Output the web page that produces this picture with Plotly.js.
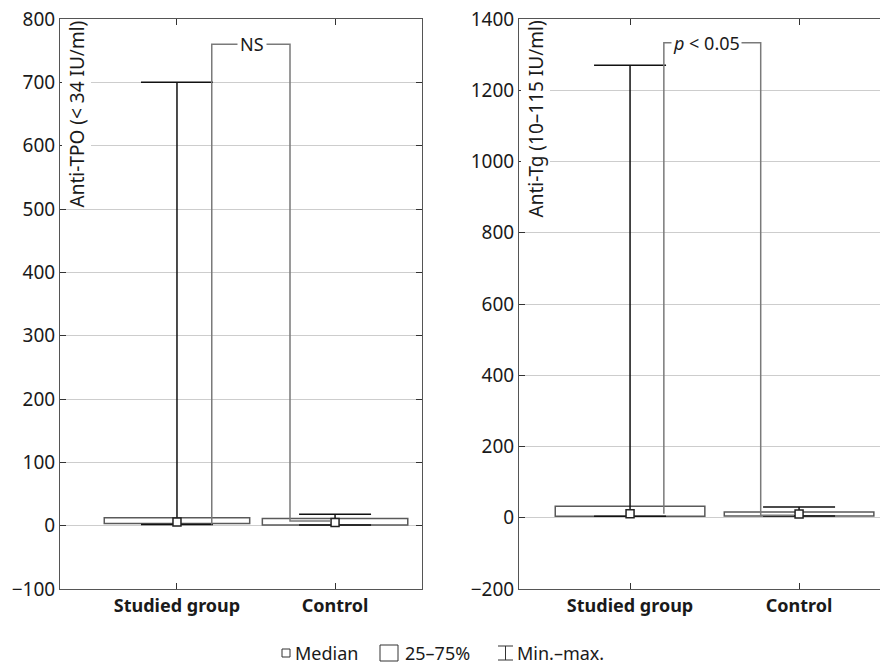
<!DOCTYPE html>
<html>
<head>
<meta charset="utf-8">
<script src="https://cdn.plot.ly/plotly-3.0.1.min.js"></script>
<style>
html,body{margin:0;padding:0;overflow:hidden;background:#fff;}
#chart{width:900px;height:668px;}
</style>
</head>
<body>
<div id="chart"></div>
<script>
// ---- data ----
const categories = ["Studied group", "Control"];
// Anti-TPO (IU/ml)
const tpoMin    = [2, 1];
const tpoQ1     = [3.5, 1];
const tpoMedian = [5.7, 5];
const tpoQ3     = [12.5, 11.5];
const tpoMax    = [700, 18];
// Anti-Tg (IU/ml)
const tgMin    = [4, 5];
const tgQ1     = [4, 5];
const tgMedian = [11, 10.5];
const tgQ3     = [32, 16];
const tgMax    = [1270, 30];

const FONT = "Noto Sans, DejaVu Sans, sans-serif";
const xIdx = categories.map((c, i) => i);
const sub = (a, b) => a.map((v, i) => v - b[i]);

function whiskerTrace(med, mn, mx, xa, ya) {
  return {
    type: "scatter", mode: "markers", x: xIdx, y: med, xaxis: xa, yaxis: ya,
    marker: {size: 1, color: "rgba(0,0,0,0)"},
    error_y: {type: "data", symmetric: false, array: sub(mx, med), arrayminus: sub(med, mn),
              color: "#111", thickness: 1.5, width: 36},
    hoverinfo: "skip"
  };
}
function boxTrace(q1, q3, xa, ya, w) {
  return {
    type: "bar", x: xIdx, base: q1, y: sub(q3, q1), width: w,
    xaxis: xa, yaxis: ya, hoverinfo: "skip",
    marker: {color: "#ffffff", line: {color: "#5a5a5a", width: 1.5}}
  };
}
function medTrace(med, xa, ya) {
  return {
    type: "scatter", mode: "markers", x: xIdx, y: med, xaxis: xa, yaxis: ya,
    marker: {symbol: "square", size: 8, color: "#ffffff", line: {color: "#222", width: 1.5}},
    hoverinfo: "skip"
  };
}

const traces = [
  whiskerTrace(tpoMedian, tpoMin, tpoMax, "x", "y"),
  boxTrace(tpoQ1, tpoQ3, "x", "y", 0.92),
  medTrace(tpoMedian, "x", "y"),
  whiskerTrace(tgMedian, tgMin, tgMax, "x2", "y2"),
  boxTrace(tgQ1, tgQ3, "x2", "y2", 0.885),
  medTrace(tgMedian, "x2", "y2")
];

const W = 900, H = 668;
const yDom = [(H - 589) / H, (H - 19) / H];
const tickText = categories.map(c => "<b>" + c + "</b>");

function xAxis(dom, rng, anchor) {
  return {
    domain: dom, range: rng, anchor: anchor, tickvals: xIdx, ticktext: tickText,
    ticks: "inside", ticklen: 6, tickcolor: "#333", showline: true, linecolor: "#555",
    linewidth: 1, mirror: "ticks", showgrid: false, zeroline: false, fixedrange: true,
    tickfont: {family: FONT, size: 18, color: "#1a1a1a"}
  };
}
function yAxis(rng, dt, anchor) {
  return {
    domain: yDom, range: rng, dtick: dt, tick0: 0, anchor: anchor,
    ticks: "inside", ticklen: 6, tickcolor: "#333", showline: true, linecolor: "#555",
    linewidth: 1, mirror: "ticks", showgrid: true, gridcolor: "#cdcdcd", gridwidth: 1,
    zeroline: false, fixedrange: true,
    tickfont: {family: FONT, size: 19, color: "#1a1a1a"}
  };
}

const px = v => v / W;
const py = v => (H - v) / H;

const LEG = 653; // legend centre line (px from top)
const shapes = [
  {type: "path", xref: "x", yref: "y", path: "M 0.22,2 V 760 H 0.715 V 7.3 H 0.97",
   line: {color: "#7a7a7a", width: 1.5}},
  {type: "path", xref: "x2", yref: "y2", path: "M 0.2,11 V 1333 H 0.773 V 7 H 0.97",
   line: {color: "#7a7a7a", width: 1.5}},
  // legend glyphs
  {type: "rect", xref: "paper", yref: "paper", x0: px(282), x1: px(290), y0: py(LEG + 4), y1: py(LEG - 4),
   line: {color: "#333", width: 1}, fillcolor: "#fff"},
  {type: "rect", xref: "paper", yref: "paper", x0: px(380), x1: px(398), y0: py(LEG + 8), y1: py(LEG - 8),
   line: {color: "#333", width: 1}, fillcolor: "#fff"},
  {type: "line", xref: "paper", yref: "paper", x0: px(505.5), x1: px(505.5), y0: py(LEG + 7), y1: py(LEG - 7),
   line: {color: "#333", width: 1}},
  {type: "line", xref: "paper", yref: "paper", x0: px(498), x1: px(513), y0: py(LEG - 7), y1: py(LEG - 7),
   line: {color: "#333", width: 1}},
  {type: "line", xref: "paper", yref: "paper", x0: px(498), x1: px(513), y0: py(LEG + 7), y1: py(LEG + 7),
   line: {color: "#333", width: 1}}
];

const annFont = {family: FONT, size: 18, color: "#1a1a1a"};
const annotations = [
  {xref: "x", yref: "y", x: 0.475, y: 760, text: "NS", showarrow: false,
   bgcolor: "#fff", borderpad: 2, font: annFont},
  {xref: "x2", yref: "y2", x: 0.45, y: 1333, text: "<i>p</i> &lt; 0.05", showarrow: false,
   bgcolor: "#fff", borderpad: 1, font: annFont},
  {xref: "paper", yref: "paper", x: px(61), y: py(19), xanchor: "left", yanchor: "top",
   text: "Anti-TPO (< 34 IU/ml)", textangle: -90, showarrow: false, bgcolor: "#fff",
   font: {family: FONT, size: 19, color: "#1a1a1a"}},
  {xref: "paper", yref: "paper", x: px(520), y: py(19), xanchor: "left", yanchor: "top",
   text: "Anti-Tg (10–115 IU/ml)", textangle: -90, showarrow: false, bgcolor: "#fff",
   font: {family: FONT, size: 19, color: "#1a1a1a"}},
  // legend labels
  {xref: "paper", yref: "paper", x: px(293), y: py(LEG), xanchor: "left", yanchor: "middle",
   text: "Median", showarrow: false, font: annFont},
  {xref: "paper", yref: "paper", x: px(403), y: py(LEG), xanchor: "left", yanchor: "middle",
   text: "25–75%", showarrow: false, font: annFont},
  {xref: "paper", yref: "paper", x: px(515), y: py(LEG), xanchor: "left", yanchor: "middle",
   text: "Min.–max.", showarrow: false, font: annFont}
];

const layout = {
  width: W, height: H, margin: {l: 0, r: 0, t: 0, b: 0},
  paper_bgcolor: "#fff", plot_bgcolor: "#fff", showlegend: false,
  barmode: "overlay",
  font: {family: FONT, color: "#1a1a1a"},
  xaxis: xAxis([px(60), px(422)], [-0.74, 1.55], "y"),
  yaxis: yAxis([-100, 800], 100, "x"),
  xaxis2: xAxis([px(519), px(890)], [-0.657, 1.538], "y2"),
  yaxis2: yAxis([-200, 1400], 200, "x2"),
  shapes: shapes, annotations: annotations
};

Plotly.newPlot("chart", traces, layout, {staticPlot: true, displayModeBar: false});
</script>
</body>
</html>
